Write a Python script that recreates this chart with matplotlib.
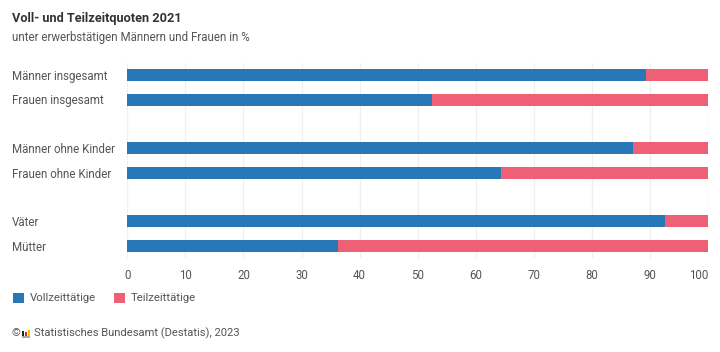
import matplotlib
matplotlib.use("Agg")
import matplotlib.pyplot as plt
from matplotlib.patches import Rectangle

plt.rcParams['font.family'] = ['Roboto', 'DejaVu Sans']

categories = ["Männer insgesamt", "Frauen insgesamt", "Männer ohne Kinder",
              "Frauen ohne Kinder", "Väter", "Mütter"]
positions = [0, 1, 3, 4, 6, 7]
vollzeit = [89.3, 52.4, 87.1, 64.4, 92.6, 36.3]
teilzeit = [10.7, 47.6, 12.9, 35.6, 7.4, 63.7]
xticks = list(range(0, 101, 10))
series_names = ["Vollzeittätige", "Teilzeittätige"]

W, H = 720, 352
BLUE, RED = "#2878b8", "#ee6075"
TXT, DARK = "#555555", "#333333"
FS = 8.3

fig = plt.figure(figsize=(W / 100, H / 100), dpi=100)
ax = fig.add_axes([127.3 / W, 1 - 258 / H, (708 - 127.3) / W, 195 / H])

ax.barh(positions, vollzeit, height=0.49, color=BLUE, label=series_names[0], zorder=3)
ax.barh(positions, teilzeit, left=vollzeit, height=0.49, color=RED, label=series_names[1], zorder=3)

ax.set_xlim(0, 100)
ax.set_ylim(7.5, -0.5)
ax.set_xticks(xticks)
ax.set_yticks(positions)
ax.set_yticklabels([])
ax.tick_params(axis='both', length=0)
ax.tick_params(axis='x', labelsize=FS, labelcolor=TXT, pad=8)
ax.get_xticklabels()[-1].set_ha('right')
ax.grid(axis='x', color="#f0f0f0", lw=1, zorder=0)
for s in ax.spines.values():
    s.set_visible(False)
ax.set_axisbelow(True)

for label, p in zip(categories, positions):
    y = 1 - (76.5 + 24.4 * p) / H
    fig.text(12 / W, y, label, fontsize=FS, color=TXT, va='center', ha='left')

fig.text(12 / W, 1 - 18.5 / H, "Voll- und Teilzeitquoten 2021", fontsize=9.15,
         fontweight='bold', color=DARK, va='center')
fig.text(12 / W, 1 - 37.5 / H, "unter erwerbstätigen Männern und Frauen in %",
         fontsize=FS, color=TXT, va='center')
fig.text(33.5 / W, 1 - 333 / H, "Statistisches Bundesamt (Destatis), 2023",
         fontsize=8.1, color=TXT, va='center')
fig.text(12 / W, 1 - 333.5 / H, "©", fontsize=8, color=TXT, va='center')

# small logo next to the copyright
for x, y, w, h, c in [(22, 330.5, 2, 5, "#222222"), (25, 332, 2, 3.5, "#d8232a"),
                      (28, 329.5, 2, 6, "#f2c500"), (22, 335.5, 8, 2, "#aaaaaa")]:
    fig.add_artist(Rectangle((x / W, 1 - (y + h) / H), w / W, h / H,
                             transform=fig.transFigure, color=c, lw=0))

handles, labels = ax.get_legend_handles_labels()
fig.legend(handles, labels, loc='center left', bbox_to_anchor=(13 / W, 1 - 298 / H),
           ncol=2, frameon=False, fontsize=8.2, labelcolor=TXT, borderpad=0, borderaxespad=0,
           handlelength=1, handleheight=1, handletextpad=0.5, columnspacing=1.55)

fig.savefig("out.png", dpi=100)
